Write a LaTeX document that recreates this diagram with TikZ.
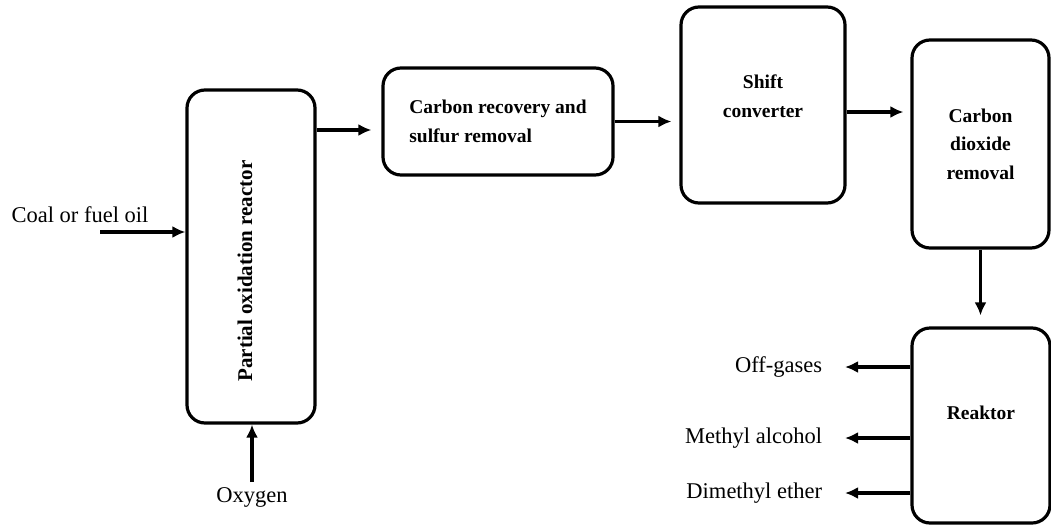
\documentclass[tikz,border=0pt]{standalone}
\usepackage{fontspec}
\setmainfont{Liberation Serif}
\usetikzlibrary{arrows.meta}

\begin{document}
\begin{tikzpicture}[x=1pt, y=-1pt, line width=3.2pt,
        unit/.style = {draw, rounded corners=18pt, inner sep=0pt},
        unittext/.style = {font=\fontsize{19.5}{28.5}\selectfont\bfseries, align=center},
        stream/.style = {font=\fontsize{22.5}{26}\selectfont},
        flow/.style = {-{Latex[length=13pt,width=12pt]}}]
    \useasboundingbox (0,0) rectangle (1051,525);
    % process units
    \node[unit, minimum width=128pt, minimum height=333pt] (po) at (251,256.5) {};
    \node[unit, minimum width=230pt, minimum height=107pt] (cr) at (498,121.5) {};
    \node[unit, minimum width=164pt, minimum height=196pt] (sc) at (763,105) {};
    \node[unit, minimum width=137pt, minimum height=208pt] (co2) at (980.5,144) {};
    \node[unit, minimum width=138pt, minimum height=195pt] (re) at (981,425.5) {};
    \node[unittext, rotate=90, font=\fontsize{21}{25}\selectfont\bfseries] (pot) at (245,271) {Partial oxidation reactor};
    \node[unittext, align=left] (crt) at (cr.center) {Carbon recovery and\\sulfur removal};
    \node[unittext] (sct) at ([yshift=9pt]sc.center) {Shift\\converter};
    \node[unittext] (co2t) at (co2.center) {Carbon\\dioxide\\removal};
    \node[unittext] (ret) at ([yshift=13pt]re.center) {Reaktor};
    % feeds
    \node[stream] (coal) at (80,215) {Coal or fuel oil};
    \coordinate (coalin) at (100,232);
    \draw[flow] (coalin) -- (coalin -| po.west);
    \node[stream] (oxy) at (252,497) {Oxygen};
    \draw[flow] (oxy.north) -- (oxy.north |- po.south);
    % main line
    \coordinate (poout) at (po.east |- 0,130);
    \draw[flow, shorten >=10pt] (poout) -- (poout -| cr.west);
    \draw[flow, shorten >=8pt] (cr.east) -- (cr.east -| sc.west);
    \coordinate (scout) at (sc.east |- 0,112);
    \draw[flow, shorten >=7pt] (scout) -- (scout -| co2.west);
    \draw[flow, shorten >=11pt] (co2.south) -- (co2.south |- re.north);
    % products
    \node[stream, anchor=east] (off) at (827,367) {Off-gases};
    \node[stream, anchor=east] (meoh) at (827,438) {Methyl alcohol};
    \node[stream, anchor=east] (dme) at (827,493) {Dimethyl ether};
    \draw[flow, shorten >=18pt] (re.west |- off.east) -- (off.east);
    \draw[flow, shorten >=18pt] (re.west |- meoh.east) -- (meoh.east);
    \draw[flow, shorten >=18pt] (re.west |- dme.east) -- (dme.east);
\end{tikzpicture}
\end{document}
